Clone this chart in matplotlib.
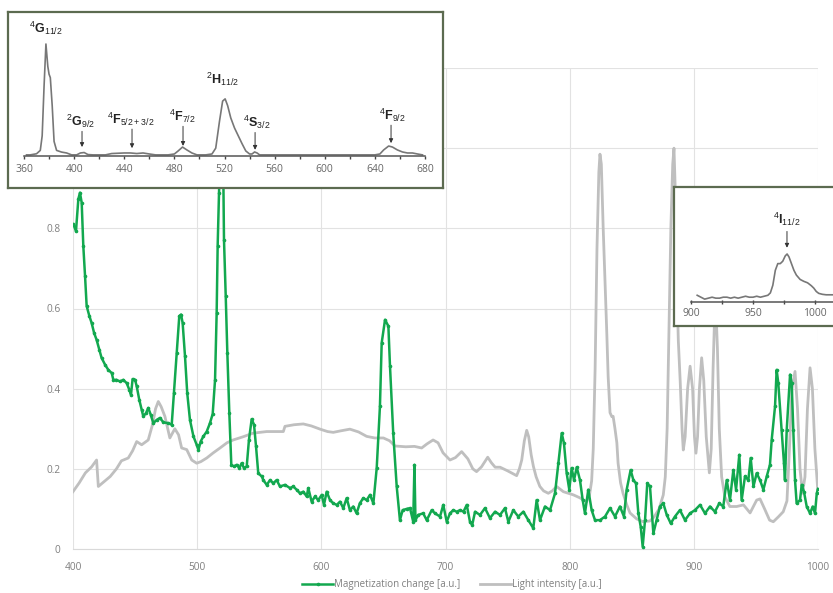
import matplotlib
matplotlib.use("Agg")
import matplotlib.pyplot as plt

plt.rcParams["font.family"] = ["Open Sans", "DejaVu Sans"]
plt.rcParams["mathtext.fontset"] = "custom"
plt.rcParams["mathtext.rm"] = "Liberation Sans"
plt.rcParams["mathtext.bf"] = "Liberation Sans:bold"

# magnetization change (green trace)
mag_nm = [
    400.3, 402.4, 404.3, 405.6, 407.0, 408.3, 409.7, 411.0, 413.2, 415.0,
    417.0, 419.0, 421.2, 423.0, 425.8, 428.4, 431.2, 432.5, 435.0, 437.8,
    440.5, 443.2, 445.4, 446.7, 448.0, 450.0, 451.3, 453.4, 455.3, 456.6,
    458.8, 460.6, 462.6, 464.7, 467.4, 470.0, 472.8, 476.7, 479.5, 481.3,
    483.5, 485.6, 487.0, 488.3, 490.2, 492.0, 494.2, 497.0, 499.6, 501.0,
    502.8, 505.0, 507.7, 510.3, 512.5, 514.4, 515.7, 516.5, 517.6, 519.3,
    521.0, 521.6, 523.0, 524.3, 525.9, 527.5, 529.7, 531.8, 534.0, 535.8,
    537.7, 539.9, 541.7, 543.9, 545.8, 547.4, 549.2, 552.0, 553.3, 556.0,
    558.7, 561.3, 564.0, 566.7, 570.7, 574.8, 577.4, 580.1, 582.8, 585.5,
    588.2, 589.5, 592.2, 594.9, 597.5, 600.3, 602.1, 604.3, 607.0, 609.6,
    612.4, 615.0, 617.7, 620.4, 623.0, 625.7, 628.4, 631.0, 633.8, 636.5,
    639.2, 641.9, 644.6, 647.2, 648.6, 651.3, 654.0, 655.3, 657.9, 660.7,
    663.3, 665.5, 668.7, 671.4, 674.0, 675.0, 675.8, 678.0, 682.0, 684.9,
    688.9, 691.5, 695.6, 698.2, 701.0, 703.6, 706.3, 709.0, 711.7, 714.5,
    717.1, 719.7, 721.5, 723.8, 727.8, 731.8, 735.8, 739.9, 743.9, 747.9,
    750.6, 754.6, 758.6, 762.7, 766.7, 770.7, 773.4, 776.1, 780.1, 784.2,
    788.2, 790.9, 793.6, 795.4, 797.6, 799.7, 801.6, 803.5, 805.7, 808.3,
    810.5, 812.3, 815.0, 817.7, 820.4, 824.4, 828.5, 832.5, 836.5, 840.5,
    843.7, 845.9, 849.1, 851.3, 853.4, 855.3, 857.2, 858.8, 860.7, 862.5,
    864.7, 867.4, 870.0, 872.7, 875.4, 878.2, 881.4, 884.8, 888.8, 892.9,
    896.9, 900.9, 905.0, 909.0, 913.0, 917.0, 920.5, 923.7, 926.5, 929.1,
    931.8, 934.0, 936.6, 938.5, 941.2, 943.9, 945.8, 948.0, 950.6, 953.3,
    956.0, 958.7, 961.3, 962.7, 965.4, 966.7, 968.0, 970.7, 972.6, 973.4,
    974.8, 977.5, 978.8, 980.1, 981.5, 982.8, 985.5, 986.9, 988.7, 990.9,
    993.6, 995.7, 997.6, 999.0, 1000.0,
]
mag_val = [
    0.810, 0.793, 0.873, 0.889, 0.864, 0.756, 0.681, 0.606, 0.581, 0.564,
    0.539, 0.522, 0.497, 0.477, 0.460, 0.447, 0.439, 0.422, 0.422, 0.418,
    0.422, 0.414, 0.397, 0.385, 0.424, 0.422, 0.406, 0.372, 0.347, 0.331,
    0.339, 0.352, 0.335, 0.314, 0.322, 0.327, 0.316, 0.314, 0.310, 0.389,
    0.489, 0.581, 0.585, 0.564, 0.481, 0.389, 0.322, 0.281, 0.260, 0.247,
    0.268, 0.281, 0.293, 0.314, 0.337, 0.422, 0.589, 0.756, 0.889, 1.060,
    0.950, 0.772, 0.631, 0.489, 0.339, 0.210, 0.206, 0.210, 0.202, 0.214,
    0.202, 0.206, 0.272, 0.324, 0.310, 0.256, 0.189, 0.181, 0.172, 0.160,
    0.172, 0.164, 0.172, 0.156, 0.160, 0.152, 0.156, 0.148, 0.139, 0.143,
    0.131, 0.152, 0.118, 0.131, 0.122, 0.135, 0.110, 0.143, 0.122, 0.114,
    0.110, 0.118, 0.102, 0.127, 0.097, 0.106, 0.089, 0.114, 0.127, 0.122,
    0.135, 0.114, 0.202, 0.356, 0.514, 0.572, 0.556, 0.456, 0.289, 0.156,
    0.072, 0.097, 0.100, 0.102, 0.068, 0.210, 0.072, 0.085, 0.089, 0.072,
    0.097, 0.089, 0.081, 0.110, 0.068, 0.089, 0.097, 0.093, 0.097, 0.093,
    0.110, 0.068, 0.060, 0.093, 0.085, 0.102, 0.077, 0.093, 0.085, 0.102,
    0.068, 0.097, 0.081, 0.093, 0.072, 0.052, 0.122, 0.072, 0.106, 0.097,
    0.139, 0.214, 0.289, 0.264, 0.189, 0.148, 0.202, 0.172, 0.204, 0.172,
    0.122, 0.089, 0.148, 0.097, 0.072, 0.072, 0.081, 0.102, 0.081, 0.106,
    0.081, 0.148, 0.197, 0.172, 0.164, 0.089, 0.056, 0.006, 0.072, 0.164,
    0.156, 0.039, 0.072, 0.106, 0.114, 0.085, 0.064, 0.081, 0.097, 0.072,
    0.089, 0.097, 0.110, 0.089, 0.106, 0.093, 0.114, 0.106, 0.172, 0.122,
    0.197, 0.148, 0.235, 0.122, 0.181, 0.172, 0.227, 0.156, 0.189, 0.172,
    0.148, 0.181, 0.210, 0.272, 0.356, 0.447, 0.414, 0.297, 0.214, 0.172,
    0.297, 0.435, 0.414, 0.297, 0.172, 0.114, 0.122, 0.160, 0.143, 0.106,
    0.089, 0.106, 0.089, 0.139, 0.150,
]

# light intensity (grey trace)
light_nm = [
    400, 405, 410, 415, 419, 420.4, 425, 430, 435, 439,
    444.5, 448, 451.3, 455.3, 460.6, 464, 466.5, 468.7, 471, 474,
    478, 482, 485, 487.5, 491.6, 495.6, 499.6, 503, 507.7, 513,
    518.4, 524, 529, 537, 545, 556, 569.4, 570.7, 578, 585.5,
    592, 599, 605, 609.6, 616, 623, 630, 636.5, 643, 650,
    655, 659.3, 668, 675, 680.8, 685, 690, 694, 698, 703.6,
    708, 713, 718, 722, 725, 729, 734, 737, 740, 744,
    750, 757.3, 759.5, 761.4, 763.5, 765.4, 767, 769, 770.8, 773,
    776, 779, 782.8, 786, 789.5, 792, 794.9, 803, 808, 813.7,
    816, 817.7, 819, 820.5, 822, 823.5, 824.4, 825.5, 827, 829.8,
    831, 832.5, 834, 835, 836.5, 838, 839, 841, 843, 846,
    848.6, 854, 859.3, 864.7, 868, 872, 875.4, 877, 878.5, 880,
    881.5, 883, 884, 885, 886, 887.5, 889, 890.5, 891.5, 893,
    895, 897, 899, 900.5, 901.7, 903, 904.5, 906.3, 908, 910,
    912.5, 914, 915.5, 917.3, 919, 920.5, 922.4, 925, 929, 934.5,
    940, 945.3, 950.6, 953.3, 957, 961, 964, 968, 972, 975,
    977, 979, 981.5, 983.5, 985.5, 987.5, 989.5, 991.5, 993.6, 995.5,
    997.5, 999.5, 1000,
]
light_val = [
    0.143, 0.165, 0.190, 0.205, 0.222, 0.156, 0.168, 0.181, 0.200, 0.220,
    0.227, 0.245, 0.268, 0.260, 0.272, 0.310, 0.350, 0.368, 0.355, 0.331,
    0.277, 0.300, 0.285, 0.252, 0.248, 0.222, 0.214, 0.218, 0.227, 0.240,
    0.252, 0.265, 0.272, 0.280, 0.289, 0.293, 0.293, 0.306, 0.310, 0.312,
    0.307, 0.299, 0.293, 0.291, 0.295, 0.299, 0.292, 0.281, 0.277, 0.277,
    0.270, 0.257, 0.255, 0.256, 0.252, 0.262, 0.272, 0.265, 0.240, 0.222,
    0.228, 0.243, 0.225, 0.200, 0.193, 0.205, 0.229, 0.215, 0.204, 0.204,
    0.195, 0.183, 0.200, 0.222, 0.270, 0.296, 0.280, 0.235, 0.206, 0.180,
    0.156, 0.145, 0.139, 0.145, 0.156, 0.150, 0.143, 0.135, 0.128, 0.118,
    0.135, 0.170, 0.250, 0.450, 0.750, 0.940, 0.985, 0.960, 0.800, 0.548,
    0.430, 0.340, 0.330, 0.331, 0.300, 0.265, 0.214, 0.165, 0.139, 0.110,
    0.090, 0.075, 0.068, 0.070, 0.080, 0.100, 0.135, 0.180, 0.300, 0.550,
    0.800, 0.960, 1.000, 0.900, 0.700, 0.520, 0.420, 0.300, 0.247, 0.280,
    0.400, 0.456, 0.400, 0.280, 0.239, 0.280, 0.400, 0.477, 0.420, 0.280,
    0.190, 0.250, 0.450, 0.640, 0.500, 0.300, 0.180, 0.130, 0.106, 0.106,
    0.110, 0.090, 0.122, 0.125, 0.100, 0.072, 0.068, 0.080, 0.093, 0.120,
    0.250, 0.400, 0.443, 0.350, 0.200, 0.139, 0.180, 0.350, 0.452, 0.400,
    0.250, 0.164, 0.139,
]

# absorption spectrum, 360-680 nm (normalised to the 4G11/2 peak)
abs_vis_nm = [
    362, 365, 370, 373, 374.5, 376, 377.5, 379, 380, 381,
    382.5, 384, 386, 390, 394, 398, 402, 405, 408, 411,
    415, 420, 425, 430, 440, 445, 450, 455, 460, 465,
    470, 475, 480, 483, 486.5, 490, 494, 498, 505, 510,
    513, 516, 518.5, 520.5, 522.5, 525, 528, 531, 534, 537,
    540, 542, 544, 546, 548, 560, 600, 640, 644, 647,
    651, 654, 658, 662, 666, 670, 674, 678,
]
abs_vis_val = [
    0.01, 0.01, 0.02, 0.05, 0.18, 0.62, 1.00, 0.80, 0.73, 0.70,
    0.45, 0.13, 0.05, 0.035, 0.027, 0.01, 0.01, 0.027, 0.031, 0.013,
    0.01, 0.01, 0.01, 0.022, 0.027, 0.027, 0.022, 0.027, 0.018, 0.01,
    0.01, 0.01, 0.018, 0.045, 0.08, 0.054, 0.027, 0.01, 0.01, 0.018,
    0.07, 0.31, 0.49, 0.51, 0.45, 0.34, 0.25, 0.18, 0.11, 0.045,
    0.018, 0.018, 0.036, 0.027, 0.01, 0.01, 0.01, 0.01, 0.018, 0.054,
    0.089, 0.08, 0.054, 0.036, 0.027, 0.027, 0.018, 0.01,
]
vis_labels = [r"${}^{4}\mathbf{G}_{11/2}$", r"${}^{2}\mathbf{G}_{9/2}$",
              r"${}^{4}\mathbf{F}_{5/2+3/2}$", r"${}^{4}\mathbf{F}_{7/2}$",
              r"${}^{2}\mathbf{H}_{11/2}$", r"${}^{4}\mathbf{S}_{3/2}$",
              r"${}^{4}\mathbf{F}_{9/2}$"]
vis_label_nm = [377.6, 404.7, 445.4, 486.1, 518.8, 546.0, 653.7]
vis_label_y = [1.14, 0.31, 0.33, 0.355, 0.68, 0.30, 0.365]
vis_arrow = [False, True, True, True, False, True, True]
vis_arrow_nm = [0, 406.3, 446.2, 486.9, 0, 544.4, 652.9]
vis_arrow_tip = [0, 0.08, 0.07, 0.09, 0, 0.055, 0.115]

# absorption spectrum, 900-1015 nm (normalised to the 4I11/2 peak)
abs_ir_nm = [
    905, 908, 911, 914, 917, 920, 923, 926, 929, 932,
    935, 938, 941, 944, 947, 950, 953, 956, 959, 962,
    964, 966, 968, 970, 972, 974, 976, 977.5, 979, 981,
    983, 985, 988, 991, 994, 997, 999, 1001, 1003, 1006,
    1009, 1012, 1015,
]
abs_ir_val = [
    0.14, 0.10, 0.06, 0.08, 0.10, 0.08, 0.08, 0.10, 0.10, 0.08,
    0.10, 0.08, 0.10, 0.12, 0.10, 0.10, 0.12, 0.10, 0.12, 0.14,
    0.19, 0.35, 0.66, 0.80, 0.80, 0.85, 0.96, 1.00, 0.94, 0.80,
    0.66, 0.56, 0.47, 0.43, 0.40, 0.34, 0.29, 0.22, 0.18, 0.16,
    0.15, 0.15, 0.15,
]

W, H = 833, 593
fig = plt.figure(figsize=(W / 100, H / 100), dpi=100)


def px_rect(x0, y0, x1, y1):
    return [x0 / W, (H - y1) / H, (x1 - x0) / W, (y1 - y0) / H]


grey_txt = "#7f7f7f"
ax = fig.add_axes(px_rect(73, 68, 818, 549))
ax.plot(light_nm, light_val, color="#bfbfbf", lw=2.0, zorder=2,
        label="Light intensity [a.u.]")
ax.plot(mag_nm, mag_val, color="#12a84f", lw=1.8, marker="o", ms=1.6,
        zorder=3, label="Magnetization change [a.u.]")
ax.set_xlim(400, 1000)
ax.set_ylim(0, 1.2)
ax.set_xticks(range(400, 1001, 100))
ax.set_yticks([0, 0.2, 0.4, 0.6, 0.8, 1.0, 1.2])
ax.set_yticklabels(["0", "0.2", "0.4", "0.6", "0.8", "1", "1.2"])
ax.grid(True, color="#e2e2e2", lw=0.8)
ax.set_axisbelow(True)
for s in ["top", "right", "left"]:
    ax.spines[s].set_visible(False)
ax.spines["bottom"].set_color("#d9d9d9")
ax.tick_params(length=0, labelsize=7.3, colors=grey_txt, pad=9)

handles, labels = ax.get_legend_handles_labels()
fig.legend(handles[::-1], labels[::-1], loc="center", ncol=2,
           bbox_to_anchor=(452 / W, 1 - 585 / H), frameon=False,
           fontsize=7, labelcolor=grey_txt, handlelength=3.2,
           columnspacing=2.0, handletextpad=0.1)

frame_col = "#5c6b50"


def inset_frame(rect):
    box = fig.add_axes(rect, zorder=5)
    box.set_xticks([])
    box.set_yticks([])
    box.set_facecolor("white")
    for s in box.spines.values():
        s.set_color(frame_col)
        s.set_linewidth(1.6)
    return box


# visible range inset
inset_frame(px_rect(8, 12, 443, 188))
a1 = fig.add_axes(px_rect(24, 30, 425, 156), zorder=6)
a1.patch.set_alpha(0)
a1.plot(abs_vis_nm, abs_vis_val, color="#777777", lw=1.2)
a1.set_xlim(360, 680)
a1.set_ylim(0, 1.125)
a1.set_xticks(range(360, 681, 40))
a1.set_xticks(range(380, 680, 40), minor=True)
a1.set_yticks([])
for s in ["top", "right", "left"]:
    a1.spines[s].set_visible(False)
a1.spines["bottom"].set_color("#555555")
a1.spines["bottom"].set_linewidth(1.1)
a1.tick_params(axis="x", which="both", length=2.5, width=1, color="#444444",
               labelsize=7.5, labelcolor="#666666", pad=3)
for lab, x, y, arr, xa, tip in zip(vis_labels, vis_label_nm, vis_label_y,
                                  vis_arrow, vis_arrow_nm, vis_arrow_tip):
    a1.text(x, y, lab, ha="center", va="center", fontsize=9,
            color="#222222", clip_on=False)
    if arr:
        a1.annotate("", xy=(xa, tip), xytext=(xa, y - 0.09),
                    arrowprops=dict(arrowstyle="-|>", lw=0.7,
                                    color="#333333", mutation_scale=6,
                                    shrinkA=0, shrinkB=0))

# near-infrared inset
inset_frame(px_rect(674, 187, 860, 326))
a2 = fig.add_axes(px_rect(691, 200, 851, 302), zorder=6)
a2.patch.set_alpha(0)
a2.plot(abs_ir_nm, abs_ir_val, color="#777777", lw=1.2)
a2.set_xlim(900, 900 + 160 / 1.24)
a2.set_ylim(0, 2.125)
a2.set_xticks([900, 950, 1000])
a2.set_xticks([925, 975], minor=True)
a2.set_yticks([])
for s in ["top", "right", "left"]:
    a2.spines[s].set_visible(False)
a2.spines["bottom"].set_color("#555555")
a2.spines["bottom"].set_linewidth(1.1)
a2.tick_params(axis="x", which="both", length=3, width=1, color="#444444",
               direction="inout", labelsize=7.5, labelcolor="#666666", pad=3)
a2.text(977.4, 1.73, r"${}^{4}\mathbf{I}_{11/2}$", ha="center", va="center",
        fontsize=9, color="#222222")
a2.annotate("", xy=(977.4, 1.13), xytext=(977.4, 1.47),
            arrowprops=dict(arrowstyle="-|>", lw=0.7, color="#333333",
                            mutation_scale=6, shrinkA=0, shrinkB=0))

fig.savefig("out.png", dpi=100)
